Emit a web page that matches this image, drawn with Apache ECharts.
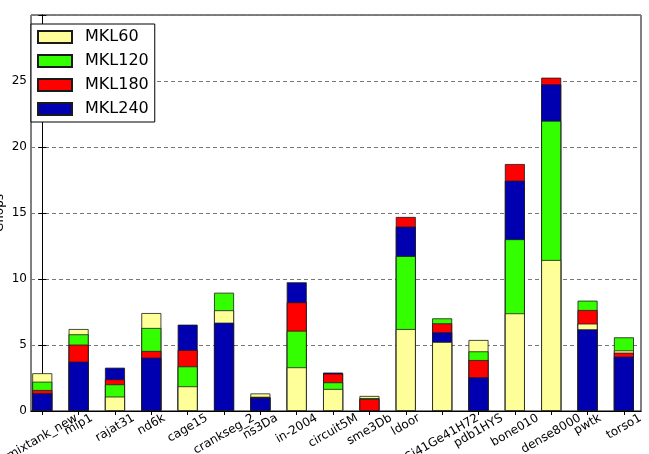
<!DOCTYPE html>
<html>
<head>
<meta charset="utf-8">
<script src="https://cdn.jsdelivr.net/npm/echarts@6/dist/echarts.min.js"></script>
<style>
  html, body { margin: 0; padding: 0; background: #fff; }
  #chart { width: 649px; height: 454px; }
</style>
</head>
<body>
<div id="chart"></div>
<script>
  // matrices on the x axis
  var categories = ['mixtank_new', 'mip1', 'rajat31', 'nd6k', 'cage15', 'crankseg_2', 'ns3Da',
    'in-2004', 'circuit5M', 'sme3Db', 'ldoor', 'Si41Ge41H72', 'pdb1HYS', 'bone010',
    'dense8000', 'pwtk', 'torso1'];

  // Gflops per configuration
  var mkl60  = [2.86, 6.21, 1.09, 7.42, 1.87, 7.63, 1.33, 3.31, 1.67, 1.14, 6.21, 5.23, 5.38, 7.40, 11.44, 6.62, 4.59];
  var mkl120 = [2.22, 5.81, 2.02, 6.29, 3.38, 8.96, 1.08, 6.08, 2.17, 0.98, 11.74, 7.02, 4.52, 13.01, 21.99, 8.36, 5.58];
  var mkl180 = [1.59, 5.03, 2.40, 4.55, 4.62, 0, 1.05, 8.23, 2.83, 0.91, 14.70, 6.64, 3.86, 18.71, 25.25, 7.65, 4.42];
  var mkl240 = [1.34, 3.74, 3.28, 4.04, 6.54, 6.69, 1.01, 9.75, 2.91, 0, 13.97, 5.96, 2.55, 17.45, 24.75, 6.19, 4.12];

  var yTicks = [0, 5, 10, 15, 20, 25, 30];

  var names = ['MKL60', 'MKL120', 'MKL180', 'MKL240'];
  var values = [mkl60, mkl120, mkl180, mkl240];
  var colors = ['#ffff99', '#33ff00', '#ff0000', '#0000b0'];
  var edge = '#1a1a1a';

  var xMin = -0.31, xMax = 16.47;
  var idx = categories.map(function (c, i) { return i; });

  // bars overlap from zero; in every group the tallest is drawn first
  var layers = [[], [], [], []];
  idx.forEach(function (i) {
    var order = [0, 1, 2, 3].sort(function (a, b) { return values[b][i] - values[a][i]; });
    order.forEach(function (s, r) {
      var v = values[s][i];
      layers[r].push({ value: [i, v > 0 ? v : null], itemStyle: { color: colors[s] } });
    });
  });

  var series = [];
  // empty series only for the legend
  names.forEach(function (n, s) {
    series.push({
      name: n, type: 'bar', data: [], barWidth: 20, barGap: '-100%',
      itemStyle: { color: colors[s], borderColor: edge, borderWidth: 0.8 }
    });
  });
  layers.forEach(function (d, r) {
    series.push({
      type: 'bar', data: d, barWidth: 20, barGap: '-100%', z: 3 + r,
      itemStyle: { borderColor: edge, borderWidth: 0.8 },
      emphasis: { disabled: true }
    });
  });

  var font = 'DejaVu Sans';
  var labelSize = 12;

  // rotated tick labels are centred under their tick (like ha='center'):
  // shift each one so that its rotated box hangs just below the axis
  var ctx = document.createElement('canvas').getContext('2d');
  ctx.font = labelSize + 'px "' + font + '"';
  var rich = {};
  var ang = 30 * Math.PI / 180;
  categories.forEach(function (c, i) {
    var w = ctx.measureText(c).width;
    var d = (w * Math.sin(ang) + labelSize * Math.cos(ang)) / 2;
    var a = d * Math.sin(ang), b = d * Math.cos(ang);
    rich['c' + i] = {
      fontSize: labelSize, fontFamily: font, color: '#000',
      padding: [2 * b, 2 * a, 0, 0]
    };
  });
  // blank labels at both ends, so no real label is treated as min/max label
  var labelAt = [xMin].concat(idx, [xMax]);

  var chart = echarts.init(document.getElementById('chart'));
  chart.setOption({
    animation: false,
    textStyle: { fontFamily: font },
    grid: {
      left: 31, right: 8, top: 15, bottom: 43,
      containLabel: false, outerBoundsMode: 'none',
      show: true, borderColor: '#000', borderWidth: 1, backgroundColor: 'transparent'
    },
    legend: {
      orient: 'vertical', left: 31, top: 24,
      data: names,
      itemWidth: 34, itemHeight: 12, itemGap: 8,
      padding: [5, 6, 5, 6],
      borderColor: '#000', borderWidth: 1, backgroundColor: '#fff',
      icon: 'rect',
      textStyle: { fontSize: 16, color: '#000', fontFamily: font, padding: [0, 0, 0, 8] }
    },
    xAxis: [{
      type: 'value', min: xMin, max: xMax,
      splitLine: { show: false },
      axisLine: { lineStyle: { color: '#000' } },
      axisTick: { inside: true, length: 4, customValues: idx, lineStyle: { color: '#000' } },
      axisLabel: {
        customValues: labelAt, rotate: 30, margin: 1, hideOverlap: false,
        align: 'center', verticalAlign: 'middle',
        formatter: function (v) {
          var i = Math.round(v);
          if (Math.abs(v - i) > 1e-6 || !categories[i]) return '';
          return '{c' + i + '|' + categories[i] + '}';
        },
        rich: rich
      }
    }, {
      type: 'value', min: xMin, max: xMax, position: 'top',
      splitLine: { show: false },
      axisLine: { lineStyle: { color: '#000' } },
      axisTick: { inside: true, length: 4, customValues: idx, lineStyle: { color: '#000' } },
      axisLabel: { show: false }
    }],
    yAxis: [{
      type: 'value', min: 0, max: 30, interval: 5,
      name: 'Gflops', nameLocation: 'middle', nameGap: 25, nameMoveOverlap: false,
      nameTextStyle: { fontSize: 12, color: '#000' },
      axisLine: { show: true, lineStyle: { color: '#000' } },
      axisTick: { show: true, inside: true, length: 4, lineStyle: { color: '#000' } },
      axisLabel: {
        fontSize: 12, color: '#000', margin: 4,
        formatter: function (v) { return v === yTicks[yTicks.length - 1] ? '' : String(v); }
      },
      splitLine: { show: true, lineStyle: { color: '#777', type: [4, 3], width: 1 } }
    }, {
      type: 'value', min: 0, max: 30, interval: 5, position: 'right',
      axisLine: { show: true, lineStyle: { color: '#000' } },
      axisTick: { show: true, inside: true, length: 4, lineStyle: { color: '#000' } },
      axisLabel: { show: false },
      splitLine: { show: false }
    }],
    series: series
  });
</script>
</body>
</html>
